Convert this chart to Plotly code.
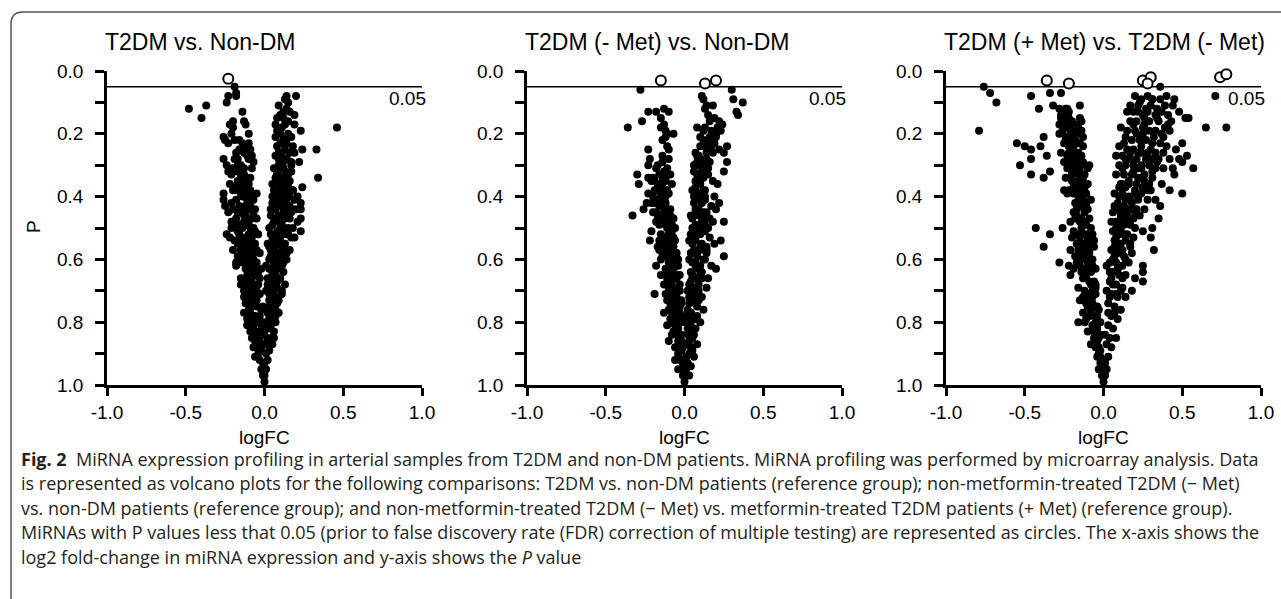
import plotly.graph_objects as go

# ---------------- Panel 1: T2DM vs. Non-DM ----------------
p1_logfc = [
    -0.48, -0.40, -0.37, -0.24, -0.23, -0.19, -0.18, -0.18, -0.14, -0.13,
    -0.12, -0.20, -0.22, -0.20, -0.10, -0.26, -0.25, -0.23, -0.14, -0.12,
    -0.10, -0.09, -0.08, -0.07, -0.18, -0.17, -0.19, -0.26, -0.15, -0.13,
    -0.23, -0.21, -0.15, -0.13, -0.17, -0.16, -0.12, -0.10, -0.05, -0.26,
    -0.26, -0.18, -0.14, -0.11, -0.09, -0.20, -0.23, -0.15, -0.12, -0.08,
    -0.06, -0.10, -0.18, -0.13, -0.07, -0.09, -0.14, -0.24, -0.22, -0.19,
    -0.17, -0.12, -0.09, -0.06, -0.20, -0.15, -0.10, -0.07, -0.17, -0.12,
    -0.08, -0.05, -0.12, -0.09, -0.06, -0.11, -0.07, -0.04, -0.10, -0.06,
    -0.03, -0.08, -0.12, -0.10, -0.05, -0.07, -0.03, -0.09, -0.05, -0.02,
    -0.07, -0.04, -0.08, -0.06, -0.03, -0.05, -0.02, -0.04, -0.03, -0.01,
    -0.02, -0.01, 0.00, -0.05, -0.04, -0.03, -0.02, -0.03, -0.01, -0.01,
    -0.11, -0.16, -0.20, -0.08, -0.11, -0.16, -0.14, -0.11, -0.08, -0.13, -0.06,
    -0.21, -0.19, -0.16, -0.11, -0.24, -0.20, -0.17, -0.13, -0.09, -0.22,
    -0.18, -0.14, -0.11, -0.07, -0.25, -0.21, -0.16, -0.12, -0.08, -0.19,
    -0.15, -0.10, -0.06, -0.21, -0.17, -0.13, -0.08, -0.05, -0.18, -0.14,
    -0.10, -0.06, -0.15, -0.11, -0.07, -0.04, -0.13, -0.09, -0.05, -0.11,
    -0.08, -0.04, -0.09, -0.06, -0.02, -0.07, -0.04, -0.06, -0.03, -0.02,
    0.14, 0.20, 0.13, 0.15, 0.14, 0.12, 0.16, 0.19, 0.10, 0.08,
    0.07, 0.08, 0.11, 0.19, 0.23, 0.46, 0.07, 0.10, 0.12, 0.08,
    0.13, 0.11, 0.16, 0.19, 0.24, 0.33, 0.09, 0.12, 0.22, 0.06,
    0.10, 0.13, 0.07, 0.11, 0.15, 0.34, 0.05, 0.09, 0.13, 0.24,
    0.08, 0.12, 0.16, 0.19, 0.05, 0.10, 0.14, 0.23, 0.07, 0.12,
    0.20, 0.23, 0.04, 0.09, 0.13, 0.23, 0.06, 0.11, 0.15, 0.03,
    0.08, 0.23, 0.12, 0.17, 0.19, 0.05, 0.09, 0.13, 0.16, 0.04,
    0.07, 0.11, 0.03, 0.06, 0.09, 0.12, 0.04, 0.07, 0.10, 0.13,
    0.02, 0.05, 0.08, 0.03, 0.06, 0.09, 0.04, 0.07, 0.09, 0.02,
    0.05, 0.07, 0.03, 0.06, 0.04, 0.02, 0.05, 0.03, 0.01, 0.02,
    0.01, 0.00, 0.02, 0.01, 0.01, 0.01, 0.00, 0.00, 0.01, 0.00,
    0.15, 0.09, 0.17, 0.14, 0.18, 0.06, 0.17, 0.10, 0.14, 0.11,
    0.09, 0.12, 0.15, 0.17, 0.10, 0.14, 0.18, 0.07, 0.11, 0.14,
    0.17, 0.08, 0.12, 0.15, 0.06, 0.10, 0.14, 0.18, 0.21, 0.05,
    0.08, 0.12, 0.16, 0.21, 0.04, 0.07, 0.11, 0.14, 0.18, 0.04,
    0.07, 0.10, 0.14, 0.03, 0.06, 0.09, 0.12, 0.03, 0.06, 0.08,
    0.11, 0.02, 0.05, 0.08, 0.03, 0.06, 0.02, 0.04, 0.01, 0.03,
]
p1_p = [
    0.12, 0.15, 0.11, 0.10, 0.08, 0.05, 0.07, 0.08, 0.13, 0.16,
    0.17, 0.16, 0.17, 0.18, 0.20, 0.21, 0.22, 0.23, 0.23, 0.24,
    0.23, 0.25, 0.27, 0.29, 0.26, 0.28, 0.28, 0.28, 0.30, 0.31,
    0.32, 0.33, 0.34, 0.35, 0.35, 0.37, 0.37, 0.36, 0.39, 0.39,
    0.41, 0.41, 0.40, 0.41, 0.42, 0.44, 0.45, 0.45, 0.45, 0.44,
    0.44, 0.47, 0.47, 0.48, 0.50, 0.50, 0.50, 0.52, 0.53, 0.54,
    0.55, 0.53, 0.54, 0.55, 0.57, 0.57, 0.57, 0.58, 0.59, 0.60,
    0.61, 0.61, 0.63, 0.64, 0.65, 0.67, 0.68, 0.68, 0.70, 0.71,
    0.71, 0.73, 0.74, 0.76, 0.75, 0.78, 0.78, 0.77, 0.80, 0.81,
    0.82, 0.84, 0.85, 0.86, 0.86, 0.88, 0.89, 0.90, 0.92, 0.93,
    0.95, 0.97, 0.99, 0.47, 0.52, 0.58, 0.63, 0.66, 0.75, 0.84,
    0.27, 0.32, 0.38, 0.39, 0.43, 0.52, 0.55, 0.62, 0.66, 0.70, 0.69,
    0.20, 0.22, 0.25, 0.26, 0.30, 0.31, 0.32, 0.33, 0.34, 0.36,
    0.38, 0.38, 0.39, 0.41, 0.43, 0.42, 0.43, 0.43, 0.47, 0.49,
    0.49, 0.52, 0.51, 0.50, 0.51, 0.58, 0.56, 0.57, 0.62, 0.61,
    0.59, 0.63, 0.66, 0.65, 0.62, 0.64, 0.72, 0.69, 0.73, 0.79,
    0.75, 0.71, 0.81, 0.78, 0.76, 0.88, 0.80, 0.91, 0.83, 0.87,
    0.08, 0.08, 0.09, 0.10, 0.12, 0.13, 0.13, 0.14, 0.14, 0.15,
    0.17, 0.19, 0.18, 0.17, 0.19, 0.18, 0.21, 0.20, 0.22, 0.24,
    0.25, 0.26, 0.26, 0.26, 0.25, 0.25, 0.28, 0.29, 0.29, 0.31,
    0.31, 0.32, 0.34, 0.34, 0.33, 0.34, 0.36, 0.36, 0.37, 0.37,
    0.39, 0.39, 0.40, 0.41, 0.42, 0.42, 0.42, 0.42, 0.44, 0.44,
    0.44, 0.44, 0.46, 0.46, 0.47, 0.47, 0.48, 0.49, 0.50, 0.50,
    0.51, 0.51, 0.52, 0.53, 0.53, 0.54, 0.55, 0.55, 0.57, 0.57,
    0.58, 0.59, 0.60, 0.61, 0.62, 0.64, 0.63, 0.65, 0.66, 0.68,
    0.66, 0.68, 0.69, 0.71, 0.72, 0.73, 0.75, 0.76, 0.77, 0.77,
    0.79, 0.80, 0.82, 0.83, 0.85, 0.86, 0.87, 0.89, 0.90, 0.92,
    0.95, 0.97, 0.55, 0.62, 0.70, 0.76, 0.84, 0.80, 0.87, 0.93,
    0.21, 0.26, 0.30, 0.36, 0.38, 0.40, 0.45, 0.53, 0.60, 0.71,
    0.11, 0.15, 0.16, 0.21, 0.23, 0.23, 0.24, 0.27, 0.28, 0.28,
    0.32, 0.32, 0.35, 0.36, 0.38, 0.38, 0.39, 0.38, 0.40, 0.40,
    0.43, 0.41, 0.43, 0.48, 0.44, 0.47, 0.46, 0.45, 0.50, 0.52,
    0.53, 0.50, 0.52, 0.56, 0.57, 0.58, 0.57, 0.63, 0.64, 0.60,
    0.62, 0.68, 0.66, 0.72, 0.75, 0.74, 0.80, 0.81, 0.82, 0.78,
]
p1_extra_logfc = [
    -0.16, -0.13, -0.10, -0.08, -0.17, -0.14, -0.12, -0.09, -0.19, -0.15,
    -0.12, -0.10, -0.07, -0.21, -0.17, -0.13, -0.10, -0.08, -0.16, -0.13,
    -0.11, -0.09, -0.07, -0.18, -0.14, -0.12, -0.09, -0.06, -0.15, -0.11,
    -0.09, -0.07, -0.13, -0.10, -0.08, -0.05, -0.11, -0.09, -0.07, -0.04,
    0.13, 0.15, 0.11, 0.14, 0.17, 0.09, 0.12, 0.16, 0.08, 0.11,
    0.14, 0.07, 0.10, 0.13, 0.16, 0.06, 0.09, 0.12, 0.15, 0.05,
    0.08, 0.11, 0.14, 0.06, 0.09, 0.12, 0.04, 0.07, 0.10, 0.05,
    0.08, 0.11, 0.04, 0.06, 0.08, 0.03, 0.05, 0.07, 0.04, 0.06,
]
p1_extra_p = [
    0.22, 0.26, 0.28, 0.31, 0.30, 0.33, 0.35, 0.38, 0.37, 0.39,
    0.43, 0.44, 0.46, 0.48, 0.45, 0.46, 0.49, 0.53, 0.54, 0.56,
    0.55, 0.58, 0.60, 0.61, 0.60, 0.66, 0.67, 0.63, 0.68, 0.69,
    0.72, 0.74, 0.77, 0.79, 0.80, 0.70, 0.81, 0.83, 0.84, 0.80,
    0.17, 0.20, 0.23, 0.28, 0.29, 0.30, 0.31, 0.35, 0.33, 0.37,
    0.38, 0.41, 0.40, 0.45, 0.47, 0.44, 0.48, 0.50, 0.52, 0.49,
    0.53, 0.56, 0.58, 0.56, 0.59, 0.61, 0.59, 0.62, 0.63, 0.65,
    0.67, 0.70, 0.69, 0.70, 0.74, 0.73, 0.77, 0.78, 0.80, 0.85,
]
p1_sig_logfc = [-0.23]
p1_sig_p = [0.025]

# ---------------- Panel 2: T2DM (- Met) vs. Non-DM ----------------
p2_logfc = [
    -0.28, -0.36, -0.27, -0.23, -0.18, -0.13, -0.10, -0.15, -0.13, -0.12,
    -0.11, -0.07, -0.23, -0.22, -0.23, -0.30, -0.29, -0.33, -0.26, -0.24,
    -0.23, -0.23, -0.21, -0.14, -0.13, -0.10, -0.10, -0.09, -0.08, -0.17,
    -0.15, -0.16, -0.13, -0.11, -0.07, -0.06, -0.21, -0.22, -0.15, -0.11,
    -0.06, -0.05, -0.18, -0.15, -0.10, -0.07, -0.19, -0.12, -0.11, -0.09,
    -0.06, -0.08, -0.05, -0.04, -0.19, -0.17, -0.14, -0.20, -0.12, -0.16,
    -0.12, -0.09, -0.14, -0.10, -0.07, -0.13, -0.09, -0.06, -0.04, -0.11,
    -0.08, -0.05, -0.03, -0.09, -0.06, -0.03, -0.07, -0.04, -0.02, -0.05,
    -0.03, -0.06, -0.04, -0.02, -0.03, -0.01, -0.02, -0.01, 0.00, -0.01,
    -0.14, -0.11, -0.17, -0.20, -0.08, -0.12, -0.10, -0.07, -0.05, -0.03,
    -0.02, -0.02, -0.04, -0.13, -0.16, -0.08, -0.10, -0.06, -0.04, -0.01,
    -0.15, -0.12, -0.18, -0.20, -0.16, -0.12, -0.19, -0.14, -0.10, -0.21,
    -0.17, -0.13, -0.09, -0.18, -0.14, -0.11, -0.08, -0.16, -0.12, -0.09,
    -0.06, -0.14, -0.10, -0.07, -0.04, -0.12, -0.08, -0.05, -0.03, -0.10,
    -0.07, -0.05, -0.02, -0.08, -0.06, -0.03, -0.07, -0.05, -0.02, -0.04,
    0.11, 0.12, 0.14, 0.18, 0.13, 0.19, 0.22, 0.24, 0.23, 0.16,
    0.13, 0.08, 0.10, 0.20, 0.21, 0.19, 0.17, 0.13, 0.07, 0.09,
    0.14, 0.22, 0.27, 0.25, 0.27, 0.25, 0.16, 0.06, 0.08, 0.11,
    0.12, 0.07, 0.10, 0.21, 0.09, 0.13, 0.19, 0.22, 0.17, 0.11,
    0.08, 0.14, 0.20, 0.25, 0.11, 0.06, 0.13, 0.10, 0.16, 0.23,
    0.05, 0.10, 0.19, 0.03, 0.25, 0.08, 0.12, 0.17, 0.20, 0.07,
    0.10, 0.04, 0.14, 0.08, 0.05, 0.11, 0.07, 0.12, 0.08, 0.04,
    0.10, 0.07, 0.05, 0.08, 0.04, 0.02, 0.03, 0.06, 0.02, 0.01,
    0.01, 0.15, 0.18, 0.13, 0.09, 0.06, 0.16, 0.12, 0.14, 0.04,
    0.09, 0.06, 0.03, 0.11, 0.05, 0.09, 0.03, 0.07, 0.02, 0.06,
    0.03, 0.01, 0.02, 0.01, 0.04, 0.03, 0.01, 0.15, 0.08, 0.18,
    0.30, 0.31, 0.37, 0.33, 0.34,
    0.15, 0.17, 0.20, 0.12, 0.15, 0.18, 0.10, 0.12, 0.06, 0.09,
    0.12, 0.05, 0.08, 0.10, 0.07, 0.09, 0.13, 0.05, 0.07, 0.11,
    0.14, 0.04, 0.07, 0.10, 0.13, 0.05, 0.08, 0.11, 0.04, 0.06,
    0.09, 0.03, 0.05, 0.08, 0.02, 0.04, 0.06, 0.03, 0.05, 0.02,
]
p2_p = [
    0.06, 0.18, 0.16, 0.13, 0.13, 0.12, 0.13, 0.18, 0.17, 0.21,
    0.20, 0.20, 0.25, 0.28, 0.30, 0.33, 0.36, 0.46, 0.44, 0.42,
    0.39, 0.34, 0.35, 0.29, 0.32, 0.28, 0.25, 0.33, 0.36, 0.37,
    0.39, 0.43, 0.45, 0.47, 0.47, 0.50, 0.51, 0.54, 0.52, 0.56,
    0.54, 0.58, 0.62, 0.65, 0.61, 0.63, 0.71, 0.71, 0.81, 0.69,
    0.73, 0.77, 0.79, 0.86, 0.35, 0.38, 0.35, 0.45, 0.40, 0.49,
    0.42, 0.44, 0.55, 0.52, 0.56, 0.59, 0.59, 0.61, 0.65, 0.66,
    0.67, 0.69, 0.70, 0.74, 0.75, 0.75, 0.80, 0.82, 0.80, 0.84,
    0.87, 0.88, 0.90, 0.89, 0.92, 0.93, 0.95, 0.97, 0.99, 0.88,
    0.27, 0.31, 0.46, 0.40, 0.49, 0.63, 0.76, 0.71, 0.77, 0.65,
    0.73, 0.84, 0.60, 0.77, 0.57, 0.84, 0.86, 0.92, 0.95, 0.78,
    0.15, 0.19, 0.31, 0.34, 0.33, 0.35, 0.38, 0.37, 0.39, 0.42,
    0.41, 0.43, 0.46, 0.45, 0.48, 0.50, 0.51, 0.54, 0.53, 0.56,
    0.59, 0.57, 0.58, 0.62, 0.62, 0.64, 0.65, 0.66, 0.68, 0.67,
    0.70, 0.72, 0.74, 0.72, 0.78, 0.77, 0.83, 0.81, 0.86, 0.91,
    0.08, 0.09, 0.11, 0.11, 0.12, 0.15, 0.16, 0.17, 0.19, 0.16,
    0.18, 0.18, 0.21, 0.20, 0.18, 0.23, 0.24, 0.24, 0.26, 0.27,
    0.26, 0.25, 0.24, 0.26, 0.29, 0.32, 0.29, 0.30, 0.33, 0.32,
    0.34, 0.35, 0.36, 0.36, 0.39, 0.40, 0.40, 0.42, 0.43, 0.42,
    0.45, 0.45, 0.44, 0.48, 0.48, 0.50, 0.51, 0.52, 0.53, 0.54,
    0.55, 0.56, 0.55, 0.54, 0.59, 0.59, 0.60, 0.62, 0.63, 0.62,
    0.65, 0.64, 0.69, 0.69, 0.71, 0.72, 0.74, 0.76, 0.78, 0.77,
    0.80, 0.82, 0.85, 0.87, 0.88, 0.82, 0.90, 0.91, 0.93, 0.95,
    0.97, 0.31, 0.35, 0.38, 0.30, 0.40, 0.47, 0.45, 0.57, 0.46,
    0.50, 0.57, 0.60, 0.66, 0.66, 0.68, 0.74, 0.72, 0.70, 0.79,
    0.84, 0.87, 0.78, 0.91, 0.94, 0.97, 0.80, 0.66, 0.27, 0.48,
    0.06, 0.09, 0.10, 0.13, 0.14,
    0.14, 0.19, 0.21, 0.22, 0.23, 0.26, 0.28, 0.30, 0.32, 0.33,
    0.38, 0.38, 0.40, 0.41, 0.44, 0.46, 0.49, 0.47, 0.49, 0.51,
    0.56, 0.52, 0.54, 0.57, 0.60, 0.61, 0.63, 0.64, 0.67, 0.69,
    0.70, 0.72, 0.73, 0.75, 0.76, 0.80, 0.84, 0.86, 0.89, 0.84,
]
p2_extra_logfc = [
    -0.14, -0.11, -0.17, -0.15, -0.12, -0.19, -0.16, -0.13, -0.11, -0.18,
    -0.15, -0.12, -0.10, -0.17, -0.14, -0.09, -0.07, -0.15, -0.11, -0.08,
    -0.13, -0.10, -0.06, -0.11, -0.08, -0.05, -0.09, -0.06, -0.04, -0.03,
    0.12, 0.16, 0.10, 0.14, 0.08, 0.11, 0.15, 0.07, 0.10, 0.13,
    0.06, 0.09, 0.12, 0.15, 0.05, 0.08, 0.11, 0.14, 0.04, 0.07,
    0.10, 0.05, 0.08, 0.03, 0.06, 0.09, 0.04, 0.07, 0.03, 0.05,
]
p2_extra_p = [
    0.22, 0.24, 0.30, 0.36, 0.34, 0.42, 0.41, 0.40, 0.38, 0.48,
    0.47, 0.49, 0.54, 0.56, 0.59, 0.57, 0.53, 0.60, 0.63, 0.60,
    0.68, 0.69, 0.66, 0.73, 0.71, 0.74, 0.79, 0.81, 0.78, 0.87,
    0.19, 0.21, 0.24, 0.28, 0.29, 0.34, 0.33, 0.37, 0.39, 0.41,
    0.42, 0.44, 0.47, 0.50, 0.50, 0.52, 0.55, 0.58, 0.58, 0.61,
    0.62, 0.65, 0.66, 0.68, 0.71, 0.73, 0.77, 0.79, 0.82, 0.83,
]
p2_sig_logfc = [-0.15, 0.13, 0.20]
p2_sig_p = [0.03, 0.04, 0.03]

# ---------------- Panel 3: T2DM (+ Met) vs. T2DM (- Met) ----------------
p3_logfc = [
    -0.76, -0.72, -0.68, -0.79, -0.46, -0.34, -0.27, -0.41, -0.32, -0.23,
    -0.15, -0.55, -0.50, -0.46, -0.40, -0.46, -0.53, -0.46, -0.38, -0.38,
    -0.36, -0.34, -0.43, -0.34, -0.38, -0.28, -0.26, -0.23, -0.19, -0.09,
    -0.20, -0.16,
    -0.28, -0.26, -0.24, -0.22, -0.27, -0.25, -0.28, -0.23, -0.20, -0.15,
    -0.14, -0.16, -0.19, -0.26, -0.28, -0.24, -0.21, -0.17, -0.14, -0.13,
    -0.25, -0.22, -0.19, -0.15, -0.13, -0.27, -0.23, -0.20, -0.16, -0.14,
    -0.25, -0.21, -0.17, -0.13, -0.10, -0.18, -0.15, -0.24, -0.20, -0.16,
    -0.13, -0.12, -0.15, -0.11, -0.13, -0.22, -0.25, -0.18, -0.16, -0.14,
    -0.19, -0.17, -0.12, -0.09, -0.21, -0.15, -0.11, -0.08, -0.19, -0.16,
    -0.13, -0.07, -0.20, -0.17, -0.13, -0.09, -0.06, -0.21, -0.18, -0.14,
    -0.10, -0.07, -0.22, -0.19, -0.15, -0.11, -0.08, -0.05, -0.21, -0.13,
    -0.09, -0.06, -0.16, -0.12, -0.08, -0.05, -0.15, -0.11, -0.07, -0.04,
    -0.13, -0.09, -0.06, -0.12, -0.07, -0.04, -0.10, -0.06, -0.03, -0.08,
    -0.05, -0.02, -0.04, -0.02, -0.03, -0.01, 0.00, -0.10, -0.12, -0.08,
    -0.06, -0.05, -0.03, -0.02, -0.04, -0.03, -0.01, -0.02, -0.01, -0.09,
    -0.25, -0.22, -0.18, -0.24, -0.20, -0.17, -0.22, -0.18, -0.14, -0.20,
    -0.16, -0.12, -0.17, -0.14, -0.11, -0.16, -0.13, -0.10, -0.18, -0.14,
    -0.11, -0.08, -0.16, -0.12, -0.09, -0.14, -0.10, -0.07, -0.12, -0.08,
    -0.05, -0.10, -0.07, -0.04, -0.08, -0.05, -0.03, -0.06, -0.03, -0.02,
    0.20, 0.24, 0.28, 0.31, 0.36, 0.40, 0.45, 0.17, 0.22, 0.27,
    0.30, 0.34, 0.39, 0.44, 0.15, 0.19, 0.25, 0.33, 0.37, 0.41,
    0.48, 0.52, 0.54, 0.17, 0.21, 0.26, 0.29, 0.35, 0.43, 0.11,
    0.15, 0.20, 0.25, 0.29, 0.32, 0.39, 0.42, 0.14, 0.18, 0.23,
    0.27, 0.36, 0.40, 0.50, 0.10, 0.15, 0.19, 0.24, 0.30, 0.33,
    0.38, 0.46, 0.08, 0.12, 0.17, 0.21, 0.27, 0.35, 0.42, 0.48,
    0.53, 0.10, 0.14, 0.19, 0.24, 0.29, 0.33, 0.44, 0.50, 0.57,
    0.08, 0.13, 0.18, 0.22, 0.26, 0.31, 0.45, 0.11, 0.16, 0.21,
    0.25, 0.29, 0.37, 0.42, 0.50, 0.07, 0.12, 0.16, 0.20, 0.33,
    0.36, 0.09, 0.13, 0.18, 0.21, 0.26, 0.06, 0.11, 0.15, 0.19,
    0.35, 0.08, 0.13, 0.17, 0.06, 0.10, 0.15, 0.25, 0.31, 0.30,
    0.07, 0.11, 0.17, 0.32, 0.05, 0.09, 0.13, 0.18, 0.04, 0.08,
    0.12, 0.16, 0.25, 0.25, 0.25, 0.06, 0.10, 0.14, 0.20, 0.04,
    0.08, 0.12, 0.18, 0.05, 0.09, 0.14, 0.03, 0.07, 0.11, 0.05,
    0.09, 0.03, 0.06, 0.04, 0.08, 0.02, 0.05, 0.03, 0.01, 0.02,
    0.01, 0.36, 0.31, 0.71, 0.65, 0.78, 0.03, 0.02, 0.01, 0.04,
    0.05, 0.02, 0.14, 0.10, 0.07, 0.13, 0.22, 0.28, 0.24, 0.38,
    0.23, 0.26, 0.33, 0.38, 0.21, 0.24, 0.31, 0.13, 0.17, 0.22,
    0.26, 0.31, 0.12, 0.16, 0.20, 0.24, 0.28, 0.10, 0.14, 0.18,
    0.23, 0.09, 0.12, 0.16, 0.20, 0.08, 0.11, 0.14, 0.19, 0.07,
    0.10, 0.14, 0.06, 0.09, 0.12, 0.05, 0.08, 0.11, 0.04, 0.07,
]
p3_p = [
    0.05, 0.07, 0.10, 0.19, 0.08, 0.07, 0.07, 0.12, 0.11, 0.12,
    0.11, 0.23, 0.24, 0.25, 0.24, 0.28, 0.30, 0.33, 0.34, 0.21,
    0.27, 0.32, 0.50, 0.52, 0.56, 0.61, 0.50, 0.39, 0.39, 0.30,
    0.29, 0.80,
    0.12, 0.13, 0.12, 0.13, 0.15, 0.16, 0.17, 0.17, 0.16, 0.15,
    0.16, 0.18, 0.18, 0.19, 0.20, 0.21, 0.21, 0.20, 0.19, 0.21,
    0.23, 0.24, 0.24, 0.23, 0.24, 0.26, 0.27, 0.27, 0.26, 0.27,
    0.29, 0.30, 0.29, 0.29, 0.31, 0.32, 0.32, 0.34, 0.35, 0.35,
    0.34, 0.37, 0.38, 0.39, 0.40, 0.38, 0.38, 0.42, 0.43, 0.42,
    0.45, 0.46, 0.45, 0.47, 0.48, 0.48, 0.49, 0.50, 0.51, 0.52,
    0.52, 0.52, 0.53, 0.55, 0.55, 0.56, 0.56, 0.57, 0.59, 0.58,
    0.59, 0.60, 0.62, 0.63, 0.62, 0.63, 0.64, 0.63, 0.65, 0.66,
    0.67, 0.67, 0.69, 0.70, 0.71, 0.71, 0.73, 0.74, 0.74, 0.75,
    0.77, 0.78, 0.78, 0.80, 0.81, 0.82, 0.83, 0.85, 0.85, 0.87,
    0.88, 0.89, 0.91, 0.93, 0.95, 0.97, 0.99, 0.36, 0.44, 0.41,
    0.54, 0.68, 0.76, 0.80, 0.86, 0.90, 0.92, 0.84, 0.95, 0.62,
    0.14, 0.15, 0.17, 0.22, 0.22, 0.23, 0.28, 0.28, 0.30, 0.33,
    0.33, 0.33, 0.37, 0.36, 0.42, 0.40, 0.43, 0.44, 0.47, 0.50,
    0.52, 0.54, 0.57, 0.57, 0.58, 0.60, 0.61, 0.62, 0.64, 0.68,
    0.69, 0.72, 0.72, 0.78, 0.76, 0.80, 0.80, 0.83, 0.88, 0.91,
    0.08, 0.09, 0.08, 0.09, 0.09, 0.08, 0.09, 0.11, 0.11, 0.12,
    0.11, 0.12, 0.11, 0.11, 0.13, 0.13, 0.14, 0.14, 0.13, 0.14,
    0.13, 0.15, 0.15, 0.16, 0.16, 0.17, 0.16, 0.16, 0.16, 0.18,
    0.19, 0.19, 0.20, 0.19, 0.21, 0.18, 0.19, 0.21, 0.22, 0.22,
    0.22, 0.23, 0.24, 0.23, 0.24, 0.25, 0.25, 0.26, 0.25, 0.26,
    0.26, 0.25, 0.27, 0.27, 0.28, 0.28, 0.28, 0.28, 0.28, 0.28,
    0.27, 0.30, 0.30, 0.30, 0.31, 0.30, 0.31, 0.31, 0.29, 0.31,
    0.33, 0.33, 0.33, 0.34, 0.33, 0.34, 0.33, 0.36, 0.36, 0.36,
    0.37, 0.36, 0.36, 0.38, 0.39, 0.39, 0.39, 0.40, 0.39, 0.41,
    0.43, 0.42, 0.43, 0.44, 0.44, 0.44, 0.45, 0.46, 0.46, 0.47,
    0.47, 0.48, 0.49, 0.49, 0.51, 0.52, 0.52, 0.51, 0.50, 0.53,
    0.54, 0.55, 0.55, 0.57, 0.57, 0.58, 0.59, 0.58, 0.61, 0.61,
    0.62, 0.61, 0.62, 0.64, 0.67, 0.64, 0.65, 0.65, 0.66, 0.67,
    0.68, 0.69, 0.70, 0.71, 0.72, 0.72, 0.74, 0.75, 0.76, 0.78,
    0.79, 0.81, 0.82, 0.85, 0.85, 0.87, 0.88, 0.91, 0.93, 0.95,
    0.97, 0.05, 0.09, 0.08, 0.18, 0.18, 0.77, 0.70, 0.84, 0.64,
    0.48, 0.62, 0.37, 0.40, 0.43, 0.47, 0.40, 0.41, 0.30, 0.31,
    0.10, 0.15, 0.19, 0.21, 0.20, 0.24, 0.28, 0.23, 0.26, 0.31,
    0.35, 0.32, 0.31, 0.35, 0.38, 0.39, 0.38, 0.37, 0.41, 0.42,
    0.46, 0.44, 0.46, 0.47, 0.45, 0.50, 0.50, 0.54, 0.53, 0.56,
    0.57, 0.60, 0.60, 0.63, 0.66, 0.66, 0.71, 0.70, 0.72, 0.77,
]
p3_extra_logfc = [
    -0.27, -0.24, -0.21, -0.18, -0.22, -0.19, -0.16, -0.23, -0.20, -0.17,
    -0.14, -0.19, -0.16, -0.13, -0.11, -0.17, -0.14, -0.12, -0.15, -0.12,
    -0.10, -0.17, -0.14, -0.11, -0.13, -0.10, -0.07, -0.11, -0.08, -0.06,
    0.22, 0.28, 0.34, 0.41, 0.19, 0.25, 0.31, 0.37, 0.16, 0.22,
    0.28, 0.34, 0.14, 0.19, 0.24, 0.30, 0.12, 0.17, 0.22, 0.11,
    0.15, 0.20, 0.09, 0.13, 0.17, 0.08, 0.12, 0.07, 0.10, 0.06,
]
p3_extra_p = [
    0.14, 0.18, 0.19, 0.22, 0.26, 0.26, 0.28, 0.31, 0.32, 0.31,
    0.36, 0.37, 0.39, 0.41, 0.43, 0.44, 0.47, 0.48, 0.53, 0.57,
    0.54, 0.61, 0.64, 0.66, 0.72, 0.75, 0.70, 0.79, 0.76, 0.81,
    0.13, 0.13, 0.15, 0.17, 0.17, 0.18, 0.23, 0.20, 0.28, 0.26,
    0.26, 0.29, 0.28, 0.32, 0.34, 0.38, 0.36, 0.41, 0.41, 0.44,
    0.44, 0.50, 0.48, 0.52, 0.56, 0.53, 0.57, 0.59, 0.62, 0.68,
]
p3_sig_logfc = [-0.36, -0.22, 0.25, 0.30, 0.28, 0.74, 0.78]
p3_sig_p = [0.03, 0.04, 0.03, 0.02, 0.04, 0.02, 0.01]

panel_titles = ["T2DM vs. Non-DM", "T2DM (- Met) vs. Non-DM", "T2DM (+ Met) vs. T2DM (- Met)"]
x_tick_vals = [-1.0, -0.5, 0.0, 0.5, 1.0]
x_tick_text = ["-1.0", "-0.5", "0.0", "0.5", "1.0"]
y_tick_vals = [0.0, 0.1, 0.2, 0.3, 0.4, 0.5, 0.6, 0.7, 0.8, 0.9, 1.0]
y_tick_text = ["0.0", "", "0.2", "", "0.4", "", "0.6", "", "0.8", "", "1.0"]
p_threshold = 0.05
x_label = "logFC"
y_label = "P"

caption_lines = [
    "<b>Fig. 2</b>  MiRNA expression profiling in arterial samples from T2DM and non-DM patients. MiRNA profiling was performed by microarray analysis. Data",
    "is represented as volcano plots for the following comparisons: T2DM vs. non-DM patients (reference group); non-metformin-treated T2DM (\u2212 Met)",
    "vs. non-DM patients (reference group); and non-metformin-treated T2DM (\u2212 Met) vs. metformin-treated T2DM patients (+ Met) (reference group).",
    "MiRNAs with P values less that 0.05 (prior to false discovery rate (FDR) correction of multiple testing) are represented as circles. The x-axis shows the",
    "log2 fold-change in miRNA expression and y-axis shows the <i>P</i> value",
]

# ---------------- Figure ----------------
W, H = 1281, 599
FONT = "Liberation Sans, Arial, sans-serif"

def px(x):
    return x / W

def py(y):
    return 1 - y / H

panels = [
    (p1_logfc + p1_extra_logfc, p1_p + p1_extra_p, p1_sig_logfc, p1_sig_p),
    (p2_logfc + p2_extra_logfc, p2_p + p2_extra_p, p2_sig_logfc, p2_sig_p),
    (p3_logfc + p3_extra_logfc, p3_p + p3_extra_p, p3_sig_logfc, p3_sig_p),
]
x_left_px = [107, 527, 946]
plot_w = 315
y_top_px, y_bot_px = 71, 385

fig = go.Figure()
layout = {}
annotations = []
shapes = []

for i, (xs, ps, sx, sp) in enumerate(panels):
    n = "" if i == 0 else str(i + 1)
    xa, ya = "x" + n, "y" + n
    fig.add_trace(go.Scatter(
        x=xs, y=ps, mode="markers", xaxis=xa, yaxis=ya,
        marker=dict(size=8, color="black", line=dict(width=0)),
        cliponaxis=False, showlegend=False, hoverinfo="x+y"))
    fig.add_trace(go.Scatter(
        x=sx, y=sp, mode="markers", xaxis=xa, yaxis=ya,
        marker=dict(size=10, color="white", line=dict(width=2, color="black")),
        cliponaxis=False, showlegend=False, hoverinfo="x+y"))

    x0 = x_left_px[i]
    layout["xaxis" + n] = dict(
        domain=[px(x0), px(x0 + plot_w)], range=[-1, 1], anchor=ya,
        automargin=False,
        showline=True, linecolor="black", linewidth=2.5,
        ticks="outside", ticklen=8, tickwidth=2.5, tickcolor="black",
        tickvals=x_tick_vals, ticktext=x_tick_text,
        tickfont=dict(family=FONT, size=19, color="black"),
        showgrid=False, zeroline=False, fixedrange=True)
    layout["yaxis" + n] = dict(
        domain=[py(y_bot_px), py(y_top_px)], range=[1, 0], anchor=xa,
        automargin=False,
        showline=True, linecolor="black", linewidth=2.5,
        ticks="outside", ticklen=9, tickwidth=2.5, tickcolor="black",
        tickvals=y_tick_vals, ticktext=y_tick_text,
        tickfont=dict(family=FONT, size=19, color="black"),
        ticklabelstandoff=8,
        showgrid=False, zeroline=False, fixedrange=True)

    shapes.append(dict(type="line", xref=xa, yref=ya, x0=-1, x1=1,
                       y0=p_threshold, y1=p_threshold,
                       line=dict(color="black", width=1.5), layer="below"))
    annotations.append(dict(text="0.05", xref=xa, yref=ya, x=1, y=p_threshold,
                            xanchor="right", yanchor="top", xshift=6, yshift=1,
                            showarrow=False,
                            font=dict(family=FONT, size=19, color="black")))
    annotations.append(dict(text=panel_titles[i], xref="paper", yref="paper",
                            x=px(x0 - 4), y=py(42), xanchor="left", yanchor="middle",
                            showarrow=False,
                            font=dict(family=FONT, size=23, color="black")))
    annotations.append(dict(text=x_label, xref="paper", yref="paper",
                            x=px(x0 + plot_w / 2), y=py(437), xanchor="center", yanchor="middle",
                            showarrow=False,
                            font=dict(family=FONT, size=19, color="black")))

annotations.append(dict(text=y_label, xref="paper", yref="paper",
                        x=px(33), y=py(227), xanchor="center", yanchor="middle",
                        textangle=-90, showarrow=False,
                        font=dict(family=FONT, size=19, color="black")))

caption_y = [459, 483, 508, 532, 557]
for line, cy in zip(caption_lines, caption_y):
    annotations.append(dict(text=line, xref="paper", yref="paper",
                            x=px(19), y=py(cy), xanchor="left", yanchor="middle",
                            showarrow=False,
                            font=dict(family="Open Sans, sans-serif", size=18, color="#231f20")))

# rounded frame (top + left)
shapes.append(dict(type="path", xref="paper", yref="paper",
                   path=f"M {px(11)} {py(599)} L {px(11)} {py(24)} Q {px(11)} {py(12)} {px(23)} {py(12)} L 1 {py(12)}",
                   line=dict(color="#555555", width=1.5)))

fig.update_layout(
    width=W, height=H, autosize=False,
    margin=dict(l=0, r=0, t=0, b=0, autoexpand=False),
    paper_bgcolor="white", plot_bgcolor="white",
    annotations=annotations, shapes=shapes,
    **layout)

fig.write_html("out.html", config={"displayModeBar": False},
               post_script="document.body.style.margin='0px';document.body.style.overflow='hidden';")
